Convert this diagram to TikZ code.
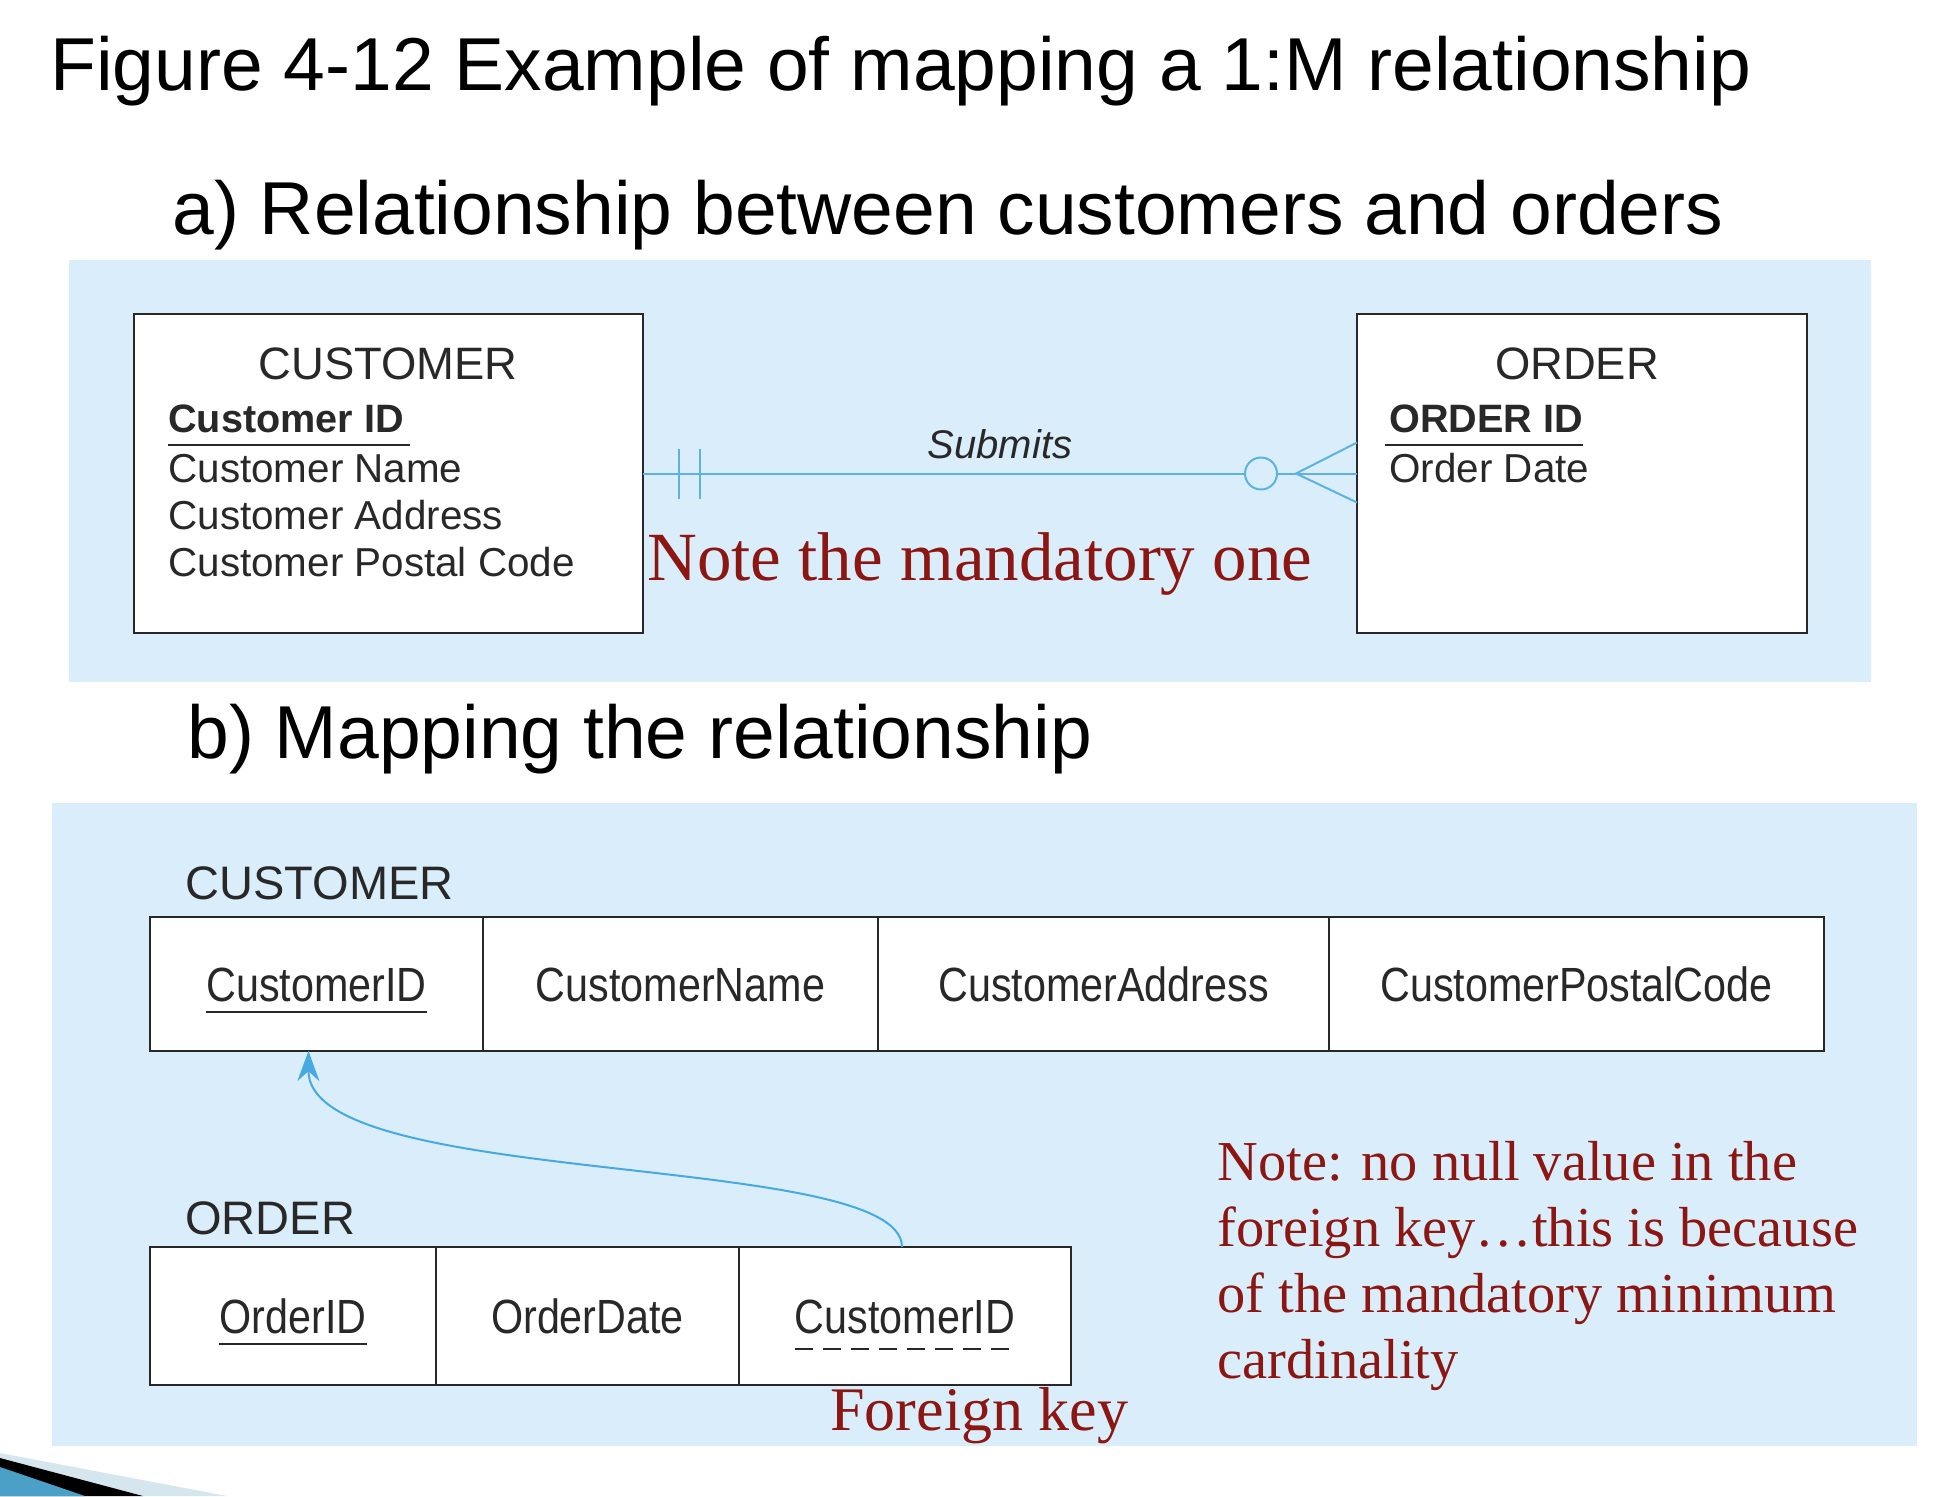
\documentclass[tikz,border=0pt]{standalone}
\usepackage{fontspec}
\setmainfont{Liberation Sans}
\newfontfamily\notefont{Liberation Serif}
\newfontfamily\cellfont[FakeStretch=0.86]{Liberation Sans}
\usepackage{tikz}
\usetikzlibrary{arrows.meta}

\definecolor{panelblue}{RGB}{217,237,250}
\definecolor{relblue}{RGB}{91,178,227}
\definecolor{fkblue}{RGB}{70,170,225}
\definecolor{notered}{RGB}{140,22,18}
\definecolor{boxgray}{RGB}{40,40,40}
\definecolor{wedgelight}{RGB}{214,230,238}
\definecolor{wedgeblue}{RGB}{75,160,200}

\newcommand{\fsz}[2]{\fontsize{#1}{#2}\selectfont}

\begin{document}
\begin{tikzpicture}[x=0.5pt,y=-0.5pt,
        heading/.style={anchor=base west, inner sep=0pt, font=\fsz{37.5}{45}},
        entity/.style={draw=boxgray, line width=1.2pt, fill=white, anchor=north west,
              minimum height=159.5pt, inner sep=0pt, outer sep=0pt},
        enttitle/.style={anchor=base, inner sep=0pt, text=boxgray, font=\fsz{22.7}{27}},
        attr/.style={anchor=base west, inner sep=0pt, text=boxgray, font=\fsz{20.2}{24}},
        key/.style={attr, font=\fsz{19.8}{24}\bfseries},
        rel/.style={draw=relblue, line width=1pt},
        ul/.style={draw=boxgray, line width=1.2pt},
        tabtitle/.style={anchor=base west, inner sep=0pt, text=boxgray, font=\fsz{23.5}{28}},
        cell/.style={draw=boxgray, line width=1pt, fill=white, anchor=north west,
              inner sep=0pt, outer sep=0pt},
        celltext/.style={inner sep=0pt, text height=17pt, text depth=0pt, text=boxgray,
              font=\cellfont\fsz{24}{28}},
        bignote/.style={anchor=base west, inner sep=0pt, text=notered, font=\notefont\fsz{34.5}{40}},
        fknote/.style={bignote, font=\notefont\fsz{31}{37}},
        smallnote/.style={bignote, align=left, font=\notefont\fsz{28.2}{33}},
    ]
    \useasboundingbox (0,0) rectangle (1958,1496);
    \fill[white] (0,0) rectangle (1958,1496);
    % slide corner
    \fill[wedgelight] (0,1453) -- (227,1496) -- (0,1496) -- cycle;
    \fill[black] (0,1458) -- (143,1496) -- (0,1496) -- cycle;
    \fill[wedgeblue] (0,1467) -- (85,1496) -- (0,1496) -- cycle;
    % headings
    \node[heading] (fig) at (50,90) {Figure 4-12 Example of mapping a 1:M relationship};
    \node[heading] (parta) at (172,234) {a) Relationship between customers and orders};
    \node[heading] (partb) at (187,758) {b) Mapping the relationship};
    % panels
    \fill[panelblue] (69,260) rectangle (1871,682);
    \fill[panelblue] (52,803) rectangle (1917,1446);

    % a) E-R diagram
    \node[entity, minimum width=254.5pt] (cust) at (134,314) {};
    \node[entity, minimum width=225pt] (ord) at (1357,314) {};
    \node[enttitle] (custname) at (388,379) {CUSTOMER};
    \node[enttitle] (ordname) at (1577,379) {ORDER};
    \node[key] (cid) at (168,432) {Customer ID};
    \node[attr] (cname) at (168,482) {Customer Name};
    \node[attr] (caddr) at (168,529) {Customer Address};
    \node[attr] (cpost) at (168,576) {Customer Postal Code};
    \node[key] (oid) at (1389,432) {ORDER ID};
    \node[attr] (odate) at (1389,482) {Order Date};
    \draw[ul] ([yshift=-6.5pt]cid.base west) -- ([xshift=3pt,yshift=-6.5pt]cid.base east);
    \draw[ul] ([xshift=-2pt,yshift=-6.5pt]oid.base west) -- ([yshift=-6.5pt]oid.base east);
    % Submits
    \draw[rel] (cust.east) -- (ord.west);
    \draw[rel] (cust.east) ++(36,-25) -- ++(0,50);
    \draw[rel] (cust.east) ++(57,-25) -- ++(0,50);
    \draw[rel, fill=panelblue] (ord.west) ++(-96,0) circle[radius=8pt];
    \draw[rel] (ord.west) ++(0,-31) -- ++(-61,31) -- ++(61,29);
    \node[anchor=base, inner sep=0pt, text=boxgray, font=\fsz{20}{24}\itshape] (submits) at (1000,458) {Submits};
    \node[bignote] (mandnote) at (647,580) {Note the mandatory one};

    % b) relations
    \node[tabtitle] (custtab) at (185,899) {CUSTOMER};
    \node[cell, minimum width=166.5pt, minimum height=67pt] (c1) at (150,917) {};
    \node[cell, minimum width=197.5pt, minimum height=67pt] (c2) at (c1.north east) {};
    \node[cell, minimum width=225.5pt, minimum height=67pt] (c3) at (c2.north east) {};
    \node[cell, minimum width=247.5pt, minimum height=67pt] (c4) at (c3.north east) {};
    \node[celltext] (c1t) at (c1.center) {CustomerID};
    \node[celltext] (c2t) at (c2.center) {CustomerName};
    \node[celltext] (c3t) at (c3.center) {CustomerAddress};
    \node[celltext] (c4t) at (c4.center) {CustomerPostalCode};
    \draw[ul] ([yshift=-5.5pt]c1t.base west) -- ([yshift=-5.5pt]c1t.base east);

    \node[tabtitle] (ordtab) at (185,1234) {ORDER};
    \node[cell, minimum width=143pt, minimum height=69pt] (o1) at (150,1247) {};
    \node[cell, minimum width=151.5pt, minimum height=69pt] (o2) at (o1.north east) {};
    \node[cell, minimum width=166pt, minimum height=69pt] (o3) at (o2.north east) {};
    \node[celltext] (o1t) at (o1.center) {OrderID};
    \node[celltext] (o2t) at (o2.center) {OrderDate};
    \node[celltext] (o3t) at (o3.center) {CustomerID};
    \draw[ul] ([yshift=-5.5pt]o1t.base west) -- ([yshift=-5.5pt]o1t.base east);
    \draw[ul, dash pattern=on 9pt off 5pt] ([yshift=-8pt]o3t.base west) -- ([yshift=-8pt]o3t.base east);
    % foreign key reference
    \draw[fkblue, line width=1pt, -{Stealth[length=15pt,width=11pt]}]
        ([xshift=-1.5pt]o3.north) .. controls (902,1150) and (308,1190) .. ([xshift=-4pt]c1.south);

    \node[fknote] (fklabel) at (830,1430) {Foreign key};
    \node[smallnote] (nullnote) at (1217,1378) {Note: no null value in the\\foreign key…this is because\\of the mandatory minimum\\cardinality};
\end{tikzpicture}
\end{document}
